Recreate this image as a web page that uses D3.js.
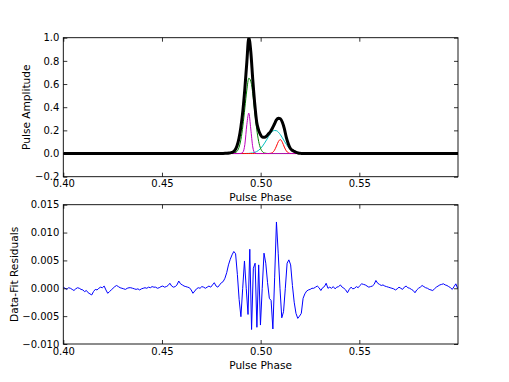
<!DOCTYPE html>
<html>
<head>
<meta charset="utf-8">
<script src="https://cdnjs.cloudflare.com/ajax/libs/d3/7.8.5/d3.min.js"></script>
<style>
  body { margin: 0; background: #fff; }
  svg text { font-family: "DejaVu Sans", sans-serif; font-size: 10.6px; fill: #000; }
  svg .tick text { font-size: 10px; }
</style>
</head>
<body>
<svg id="chart" width="509" height="382"></svg>
<script>
// phase grid of the profile panel (flat outside 0.48 - 0.524)
const profilePhase = [0.400,
  0.480, 0.481, 0.482, 0.483, 0.484, 0.485, 0.486, 0.487, 0.488, 0.489,
  0.490, 0.491, 0.492, 0.493, 0.494, 0.495, 0.496, 0.497, 0.498, 0.499,
  0.500, 0.501, 0.502, 0.503, 0.504, 0.505, 0.506, 0.507, 0.508, 0.509,
  0.510, 0.511, 0.512, 0.513, 0.514, 0.515, 0.516, 0.517, 0.518, 0.519,
  0.520, 0.521, 0.522, 0.523, 0.524, 0.600];

const profileTotal = [0,
  0.000, 0.001, 0.002, 0.003, 0.005, 0.008, 0.014, 0.030, 0.065, 0.130,
  0.230, 0.370, 0.560, 0.790, 1.000, 0.880, 0.640, 0.430, 0.270, 0.200,
  0.160, 0.140, 0.140, 0.150, 0.170, 0.190, 0.220, 0.255, 0.290, 0.305,
  0.300, 0.270, 0.215, 0.140, 0.085, 0.045, 0.028, 0.018, 0.010, 0.005,
  0.002, 0.000, 0.000, 0.000, 0.000, 0];

const compGreen = [0,
  0, 0, 0, 0, 0, 0, 0.001, 0.006, 0.018, 0.052,
  0.121, 0.239, 0.394, 0.548, 0.650, 0.625, 0.520, 0.361, 0.211, 0.104,
  0.043, 0.015, 0.004, 0.001, 0, 0, 0, 0, 0, 0,
  0, 0, 0, 0, 0, 0, 0, 0, 0, 0,
  0, 0, 0, 0, 0, 0];

const compCyan = [0,
  0, 0, 0, 0, 0, 0, 0, 0, 0, 0,
  0, 0, 0, 0.001, 0.001, 0.003, 0.005, 0.010, 0.017, 0.028,
  0.044, 0.065, 0.090, 0.118, 0.147, 0.172, 0.191, 0.199, 0.197, 0.184,
  0.163, 0.136, 0.107, 0.080, 0.056, 0.037, 0.023, 0.014, 0.008, 0.004,
  0.002, 0.001, 0, 0, 0, 0];

const compRed = [0,
  0, 0, 0, 0, 0, 0, 0, 0, 0, 0,
  0, 0, 0, 0, 0, 0, 0, 0, 0, 0,
  0, 0, 0, 0, 0, 0.002, 0.009, 0.028, 0.064, 0.104,
  0.120, 0.097, 0.056, 0.023, 0.007, 0.001, 0, 0, 0, 0,
  0, 0, 0, 0, 0, 0];

const compMagenta = [0,
  0, 0, 0, 0, 0, 0, 0, 0, 0, 0,
  0.001, 0.011, 0.079, 0.250, 0.349, 0.212, 0.057, 0.007, 0, 0,
  0, 0, 0, 0, 0, 0, 0, 0, 0, 0,
  0, 0, 0, 0, 0, 0, 0, 0, 0, 0,
  0, 0, 0, 0, 0, 0];

// residuals, one per phase bin starting at 0.400 (units of 1e-4)
const residStart = 0.400;
const residBin = 0.0009;
const residuals = [
  2, 0, -2, 1, 0, -2, -4, -1, 1, 0,
  -2, -3, -6, -4, -8, -10, -12, -6, -2, -3,
  0, 2, 1, 4, -3, -9, -6, -3, 0, 3,
  5, 3, 1, 0, -1, -2, 0, 1, 1, 0,
  -1, -2, -1, -3, -1, 0, 1, 0, 2, 1,
  3, 2, 2, 0, 1, 3, 4, 2, 3, 5,
  9, 4, 2, 3, 6, 13, 8, 6, 4, 3,
  2, 1, -3, -9, -5, -1, 1, 0, 3, 2,
  0, 2, 4, 2, 6, 10, 4, 2, 6, 10,
  12, 18, 28, 42, 52, 60, 66, 62, 25, -20,
  -51, 0, 49, 0, -47, 70, -74, 36, 45, -70,
  42, -66, 0, 63, 45, 10, -18, -22, -73, 20,
  119, 63, 0, -53, -42, 0, 45, 51, 42, 5,
  -25, -45, -54, -50, -45, -18, -10, -5, -3, -2,
  0, 0, 2, 4, 1, -4, 1, 3, 9, 0,
  2, 0, 3, -1, 2, 3, 6, 2, 0, -3,
  -8, -2, 2, -1, 0, 3, 1, 5, 8, 7,
  6, 4, 2, 3, 4, 7, 14, 9, 7, 5,
  6, 4, 3, 2, 1, 0, -1, -3, -1, 2,
  0, -2, 2, 4, 1, 0, -2, -4, -8, -3,
  0, 2, 5, 3, 1, 0, -2, -3, -4, -1,
  2, 4, 6, 7, 8, 6, 5, 3, 1, -2,
  3, 8, 0];

const phaseTicks = [0.40, 0.45, 0.50, 0.55];
const ampTicks = [-0.2, 0.0, 0.2, 0.4, 0.6, 0.8, 1.0];
const residTicks = [-0.010, -0.005, 0.000, 0.005, 0.010, 0.015];

const svg = d3.select("#chart");
svg.append("rect").attr("width", 509).attr("height", 382).attr("fill", "#fff");

const left = 63.3, right = 458;
const x = d3.scaleLinear().domain([0.40, 0.60]).range([left, right]);

const minus = s => s.replace("-", "\u2212");

function panel(top, bottom, yDomain, yTicks, fmt, yLabel, labelX) {
  const y = d3.scaleLinear().domain(yDomain).range([bottom, top]);
  const g = svg.append("g");

  const clipId = "clip" + Math.round(top);
  svg.append("clipPath").attr("id", clipId)
    .append("rect").attr("x", left).attr("y", top)
    .attr("width", right - left).attr("height", bottom - top);

  const plot = g.append("g").attr("clip-path", "url(#" + clipId + ")");

  // ticks, all pointing inward
  const ax = [
    g.append("g").attr("transform", "translate(0," + bottom + ")")
      .call(d3.axisBottom(x).tickValues(phaseTicks).tickSize(-4).tickPadding(3.5)
        .tickFormat(d3.format(".2f"))),
    g.append("g").attr("transform", "translate(0," + top + ")")
      .call(d3.axisTop(x).tickValues(phaseTicks).tickSize(-4).tickFormat("")),
    g.append("g").attr("transform", "translate(" + left + ",0)")
      .call(d3.axisLeft(y).tickValues(yTicks).tickSize(-4).tickPadding(4)
        .tickFormat(d => minus(fmt(d)))),
    g.append("g").attr("transform", "translate(" + right + ",0)")
      .call(d3.axisRight(y).tickValues(yTicks).tickSize(-4).tickFormat(""))
  ];
  ax.forEach(a => {
    a.select(".domain").remove();
    a.selectAll("line").attr("stroke", "#000").attr("stroke-width", 0.8);
    a.selectAll("text").attr("font-size", null).attr("font-family", null).attr("fill", "#000");
  });

  g.append("rect").attr("x", left).attr("y", top)
    .attr("width", right - left).attr("height", bottom - top)
    .attr("fill", "none").attr("stroke", "#000").attr("stroke-width", 0.9);

  g.append("text").attr("x", (left + right) / 2).attr("y", bottom + 24.5)
    .attr("text-anchor", "middle").text("Pulse Phase");

  g.append("text")
    .attr("transform", "translate(" + labelX + "," + ((top + bottom) / 2) + ") rotate(-90)")
    .attr("text-anchor", "middle").text(yLabel);

  return { y, plot };
}

// profile panel
const p1 = panel(37.7, 176.7, [-0.2, 1.0], ampTicks, d3.format(".1f"), "Pulse Amplitude", 29.5);
const series = [
  { values: compCyan, color: "#00bfbf" },
  { values: compGreen, color: "#008000" },
  { values: compRed, color: "#ff0000" },
  { values: compMagenta, color: "#bf00bf" }
];
const lineP = vals => d3.line()
  .x((d, i) => x(profilePhase[i]))
  .y(d => p1.y(d))
  .curve(d3.curveMonotoneX)(vals);

series.forEach(s => {
  p1.plot.append("path").attr("d", lineP(s.values))
    .attr("fill", "none").attr("stroke", s.color).attr("stroke-width", 1);
});
p1.plot.append("path").attr("d", lineP(profileTotal))
  .attr("fill", "none").attr("stroke", "#000").attr("stroke-width", 3)
  .attr("stroke-linejoin", "round");

// residual panel
const p2 = panel(204.7, 344, [-0.010, 0.015], residTicks, d3.format(".3f"), "Data-Fit Residuals", 18.3);
const lineR = d3.line()
  .x((d, i) => x(residStart + i * residBin))
  .y(d => p2.y(d * 1e-4));
p2.plot.append("path").attr("d", lineR(residuals))
  .attr("fill", "none").attr("stroke", "#0000ff").attr("stroke-width", 1)
  .attr("stroke-linejoin", "round");
</script>
</body>
</html>
